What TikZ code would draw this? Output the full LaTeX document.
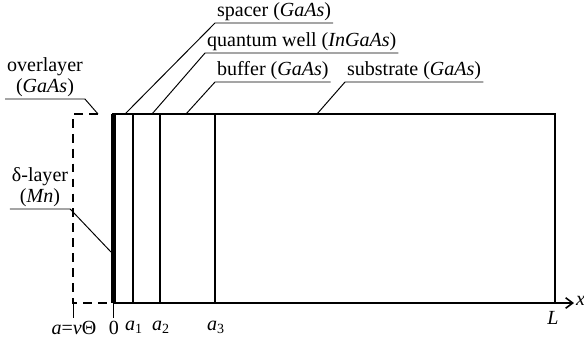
\documentclass[tikz,border=0pt]{standalone}
\usepackage{fontspec}
\setmainfont{Liberation Serif}
\usetikzlibrary{arrows.meta}

\begin{document}
\begin{tikzpicture}[
        x=0.02cm, y=-0.02cm,
        font=\fontsize{11.4}{12.2}\selectfont,
        % Estilo de las capas
        layer_line/.style={line width=0.9pt},
        % Lineas guia de las etiquetas
        leader_line/.style={line width=0.55pt},
        tag_text/.style={inner sep=1pt, align=center},
        dashed_edge/.style={line width=1.1pt, dash pattern=on 5pt off 3.5pt},
        axis_arrow/.style={line width=0.9pt, -{Straight Barb[length=4pt, width=6pt]}}
    ]
    \useasboundingbox (0,0) rectangle (584,343);

    % 1. Estructura
    \coordinate (origin) at (113,303);
    \coordinate (top_right) at (555,114);
    \coordinate (bottom_right) at (555,303);
    \coordinate (x_end) at (574,303);
    \fill (111,114) rectangle (116,303);
    \draw[layer_line] (origin) |- (top_right) -- (bottom_right);
    \draw[axis_arrow] (origin) -- (x_end);
    \foreach \name/\xx in {a1/133, a2/160, a3/215} {
        \coordinate (\name_top) at (\xx,114);
        \coordinate (\name) at (\xx,303);
        \draw[layer_line] (\name_top) -- (\name);
    }

    % 2. Capa superior (discontinua)
    \coordinate (over_top) at (98,114);
    \coordinate (over_tl) at (73,114);
    \coordinate (over_bl) at (73,303);
    \draw[dashed_edge] (over_top) -- (over_tl) -- (over_bl) -- (origin);
    \draw[leader_line] (over_bl) -- ++(0,15);
    \draw[leader_line] (origin) -- ++(0,15);

    % 3. Marcas del eje
    \node[anchor=north] (lbl_a) at (74,315) {\textit{a}=\textit{v}Θ};
    \node[anchor=north] (lbl_0) at (114,315) {0};
    \node[anchor=north] (lbl_a1) at (134,315) {\textit{a}\textsubscript{1}};
    \node[anchor=north] (lbl_a2) at (161,315) {\textit{a}\textsubscript{2}};
    \node[anchor=north] (lbl_a3) at (216,315) {\textit{a}\textsubscript{3}};
    \node[anchor=north] (lbl_L) at (553,305) {\textit{L}};
    \node[anchor=west, inner sep=1pt] (lbl_x) at (574,301) {\textit{x}};

    % 4. Etiquetas con lineas guia
    \coordinate (spacer_pt) at (125,114);
    \coordinate (well_pt) at (152,114);
    \coordinate (buffer_pt) at (186,114);
    \coordinate (substrate_pt) at (317,114);
    \coordinate (delta_pt) at (111,252);

    \node[tag_text, anchor=south west] (spacer) at (215,23) {spacer (\textit{GaAs})};
    \node[tag_text, anchor=south west] (well) at (205,53) {quantum well (\textit{InGaAs})};
    \node[tag_text, anchor=south west] (buffer) at (215,82) {buffer (\textit{GaAs})};
    \node[tag_text, anchor=south west] (substrate) at (345,82) {substrate (\textit{GaAs})};
    \node[tag_text, anchor=south] (overlayer) at (45,99) {overlayer\\(\textit{GaAs})};
    \node[tag_text, anchor=south] (delta) at (40,209) {δ-layer\\(\textit{Mn})};

    \draw[leader_line] (spacer.south east) -- (spacer.south west) -- (spacer_pt);
    \draw[leader_line] (well.south east) -- (well.south west) -- (well_pt);
    \draw[leader_line] (buffer.south east) -- (buffer.south west) -- (buffer_pt);
    \draw[leader_line] (substrate.south east) -- (substrate.south west) -- (substrate_pt);
    \draw[leader_line] (overlayer.south west) -- (overlayer.south east) -- (over_top);
    \draw[leader_line] (delta.south west) -- (delta.south east) -- (delta_pt);
\end{tikzpicture}
\end{document}
